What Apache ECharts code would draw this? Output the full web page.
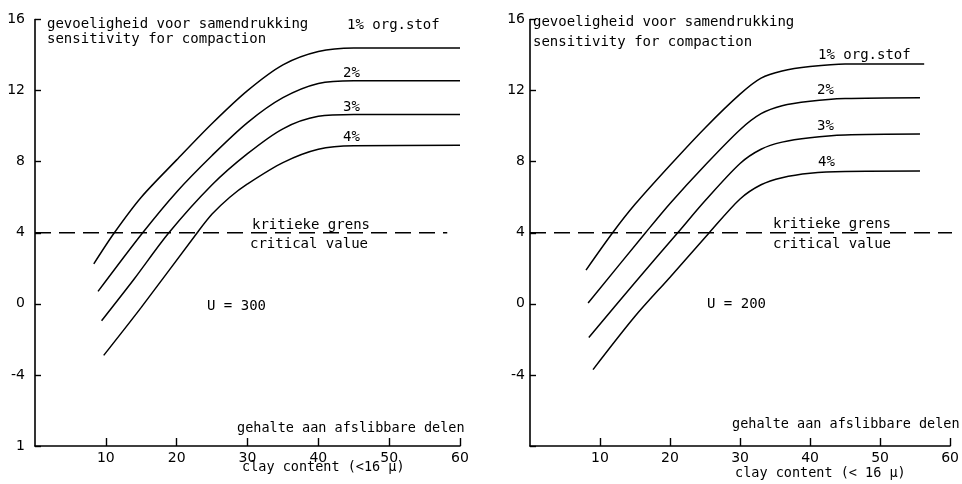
<!DOCTYPE html>
<html><head><meta charset="utf-8">
<script src="https://cdn.jsdelivr.net/npm/echarts@6/dist/echarts.min.js"></script>
<style>html,body{margin:0;padding:0;background:#fff}#c{width:962px;height:484px}</style>
</head><body><div id="c"></div>
<script>
// ---- data ----
const xTickValues = [10, 20, 30, 40, 50, 60];
const yTickValues = [-8, -4, 0, 4, 8, 12, 16];
const yTickLabelsLeft = ['1', '-4', '0', '4', '8', '12', '16'];
const yTickLabelsRight = ['', '-4', '0', '4', '8', '12', '16'];
const criticalValue = 4;
const criticalXLeft = [0, 58.2];
const criticalXRight = [0, 60.3];

// U = 300 (left panel)
const left1 = [[8.3,2.25],[11.2,4],[15,6.0],[20,8.1],[25,10.15],[30,12.0],[35,13.45],[40,14.2],[45,14.4],[60,14.4]];
const left2 = [[8.9,0.7],[15.2,4],[20,6.3],[25,8.35],[30,10.2],[35,11.6],[40,12.4],[45,12.56],[60,12.56]];
const left3 = [[9.4,-0.95],[14,1.4],[18.9,4],[25,6.7],[30,8.45],[35,9.85],[40,10.55],[45,10.65],[60,10.65]];
const left4 = [[9.7,-2.9],[15,-0.2],[22.9,4],[25,5.05],[27.5,6.0],[30,6.75],[35,7.95],[40,8.7],[45,8.9],[60,8.92]];

// U = 200 (right panel)
const right1 = [[8.0,1.9],[11.8,4],[15,5.6],[20,7.8],[25,9.9],[30,11.8],[33,12.7],[36,13.1],[40,13.35],[45,13.5],[56.3,13.5]];
const right2 = [[8.3,0.05],[16.5,4],[20,5.65],[25,7.8],[30,9.8],[33,10.7],[36,11.15],[40,11.4],[45,11.55],[55.7,11.6]];
const right3 = [[8.4,-1.9],[15,1.2],[21.1,4],[25,5.8],[30,7.9],[33,8.7],[36,9.1],[40,9.35],[45,9.5],[55.7,9.55]];
const right4 = [[9.0,-3.7],[15,-0.7],[20,1.5],[25.6,4],[30,5.9],[33,6.7],[36,7.1],[40,7.35],[45,7.45],[55.7,7.47]];

// ---- chart ----
const FONT = 'DejaVu Sans';
const TFONT = 'DejaVu Sans Mono';
const chart = echarts.init(document.getElementById('c'), null, {renderer: 'canvas'});

function xAxis(gi) {
  return {
    type: 'value', gridIndex: gi, min: 0, max: 60, interval: 10,
    axisLine: {show: true, onZero: false, lineStyle: {color: '#000', width: 1.6}},
    axisTick: {show: true, inside: true, length: 8, lineStyle: {color: '#000', width: 1.4},
      customValues: xTickValues},
    axisLabel: {show: true, margin: 5, color: '#000', fontFamily: FONT, fontSize: 14,
      customValues: xTickValues},
    splitLine: {show: false}
  };
}
function yAxis(gi, labels, margin) {
  return {
    type: 'value', gridIndex: gi, min: -8, max: 16, interval: 4,
    axisLine: {show: true, onZero: false, lineStyle: {color: '#000', width: 1.6}},
    axisTick: {show: true, inside: true, length: 6, lineStyle: {color: '#000', width: 1.4}},
    axisLabel: {show: true, margin: margin, color: '#000', fontFamily: FONT, fontSize: 14,
      formatter: v => labels[yTickValues.indexOf(v)] ?? ''},
    splitLine: {show: false}
  };
}
function curve(data, xi) {
  return {type: 'line', xAxisIndex: xi, yAxisIndex: xi, data: data, smooth: 0.3,
    showSymbol: false, symbol: 'none',
    lineStyle: {color: '#000', width: 1.5}, silent: true, animation: false};
}
function dashed(xs, xi) {
  return {type: 'line', xAxisIndex: xi, yAxisIndex: xi,
    data: xs.map(x => [x, criticalValue]), showSymbol: false, symbol: 'none',
    lineStyle: {color: '#000', width: 1.5, type: [16, 8]}, silent: true, animation: false};
}
function txt(text, x, y, size) {
  return {type: 'text', x: x, y: y, silent: true,
    style: {text: text, fill: '#000', font: (size || 14) + 'px "' + TFONT + '"',
      align: 'left', verticalAlign: 'middle'}};
}

chart.setOption({
  animation: false,
  backgroundColor: '#fff',
  grid: [
    {left: 35, top: 19.5, width: 425, height: 426.5},
    {left: 530, top: 19.5, width: 423, height: 426.5}
  ],
  xAxis: [xAxis(0), xAxis(1)],
  yAxis: [yAxis(0, yTickLabelsLeft, 10), yAxis(1, yTickLabelsRight, 5)],
  series: [
    curve(left1, 0), curve(left2, 0), curve(left3, 0), curve(left4, 0),
    dashed(criticalXLeft, 0),
    curve(right1, 1), curve(right2, 1), curve(right3, 1), curve(right4, 1),
    dashed(criticalXRight, 1)
  ],
  graphic: [
    txt('gevoeligheid voor samendrukking', 47, 24),
    txt('sensitivity for compaction', 47, 39),
    txt('1% org.stof', 347, 25),
    txt('2%', 343, 73),
    txt('3%', 343, 107),
    txt('4%', 343, 137),
    txt('kritieke grens', 252, 225),
    txt('critical value', 250, 244),
    txt('U = 300', 207, 306),
    txt('gehalte aan afslibbare delen', 237, 428, 13.5),
    txt('clay content (<16 µ)', 242, 467, 13.5),

    txt('gevoeligheid voor samendrukking', 533, 22),
    txt('sensitivity for compaction', 533, 42),
    txt('1% org.stof', 818, 55),
    txt('2%', 817, 90),
    txt('3%', 817, 126),
    txt('4%', 818, 162),
    txt('kritieke grens', 773, 224),
    txt('critical value', 773, 244),
    txt('U = 200', 707, 304),
    txt('gehalte aan afslibbare delen', 732, 424, 13.5),
    txt('clay content (< 16 µ)', 735, 473, 13.5)
  ]
});
</script>
</body></html>
